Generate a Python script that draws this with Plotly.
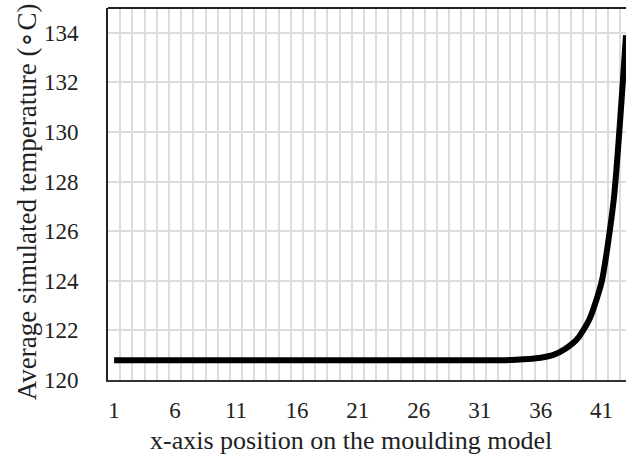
import plotly.graph_objects as go

positions = list(range(1, 44))
temps = [120.8] * 33 + [120.82, 120.85, 120.9, 121.0, 121.25, 121.65, 122.45, 123.95, 127.3, 133.9]
x_tick_vals = [1, 6, 11, 16, 21, 26, 31, 36, 41]
y_tick_vals = [120, 122, 124, 126, 128, 130, 132, 134]

FONT = "Liberation Serif"

fig = go.Figure()
fig.add_trace(go.Scatter(
    x=positions, y=temps, mode="lines",
    line=dict(color="black", width=6, shape="spline", smoothing=0.6),
    cliponaxis=True, showlegend=False, hoverinfo="skip",
))

fig.update_layout(
    width=626, height=466,
    margin=dict(l=108, r=0, t=8, b=86),
    paper_bgcolor="white", plot_bgcolor="white",
    font=dict(family=FONT, size=23, color="#222"),
    xaxis=dict(
        range=[0.5, 43.0], tickvals=x_tick_vals,
        showgrid=False, zeroline=False,
        showline=True, linecolor="#333", linewidth=2,
        ticks="outside", ticklen=8, tickcolor="rgba(0,0,0,0)",
        tickfont=dict(family=FONT, size=23, color="#222"),
        minor=dict(tick0=0.5, dtick=1, showgrid=True, gridcolor="#dcdcdc", gridwidth=2, ticks=""),
    ),
    yaxis=dict(
        range=[120, 135], tickvals=y_tick_vals,
        showgrid=True, gridcolor="#dcdcdc", gridwidth=2, zeroline=False,
        showline=True, linecolor="#222", linewidth=2,
        ticks="outside", ticklen=23, tickcolor="rgba(0,0,0,0)",
        tickfont=dict(family=FONT, size=23, color="#222"),
    ),
    shapes=[dict(type="line", xref="paper", yref="paper", x0=0, x1=1, y0=1, y1=1,
                 line=dict(color="#222", width=2))],
    annotations=[
        dict(text="x-axis position on the moulding model", xref="paper", yref="paper",
             x=0.47, y=0, yshift=-60, xanchor="center", yanchor="middle", showarrow=False,
             font=dict(family=FONT, size=26, color="#222")),
        dict(text="Average simulated temperature (∘C)", xref="paper", yref="paper",
             x=0, xshift=-81, y=0.478, textangle=-90, xanchor="center", yanchor="middle",
             showarrow=False, font=dict(family=FONT, size=27, color="#222")),
    ],
)

fig.write_html("out.html", config={"displayModeBar": False},
               post_script="document.body.style.margin='0';document.body.style.overflow='hidden';")
